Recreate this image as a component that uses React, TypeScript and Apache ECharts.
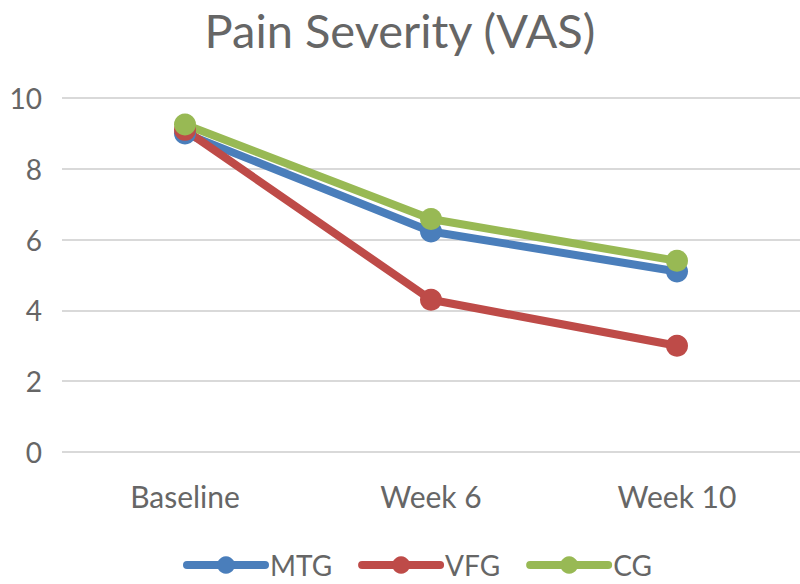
import React, { useEffect, useRef } from "react";
import * as echarts from "echarts";

const categories = ["Baseline", "Week 6", "Week 10"];
const mtg = [9.0, 6.23, 5.1];
const vfg = [9.1, 4.3, 3.0];
const cg = [9.25, 6.58, 5.4];
const seriesNames = ["MTG", "VFG", "CG"];
const colors = ["#4a7ebb", "#be4b48", "#98b954"];

export default function App() {
  const ref = useRef<HTMLDivElement>(null);
  useEffect(() => {
    if (!ref.current) return;
    const chart = echarts.init(ref.current, undefined, { renderer: "svg" });
    const font = "Lato, 'Open Sans', sans-serif";
    const data = [mtg, vfg, cg];
    chart.setOption({
      animation: false,
      backgroundColor: "#ffffff",
      title: {
        text: "Pain Severity (VAS)",
        left: "center",
        top: 1,
        textStyle: { color: "#666666", fontSize: 47, fontWeight: "normal", fontFamily: font },
      },
      grid: { left: 62, right: 0, top: 98, bottom: 132, containLabel: false },
      legend: {
        top: 546,
        left: 178,
        itemWidth: 78,
        itemHeight: 22,
        itemGap: 26,
        lineStyle: { width: 8, cap: "round" },
        textStyle: { color: "#666666", fontSize: 28, fontFamily: font },
        data: seriesNames,
      },
      xAxis: {
        type: "category",
        data: categories,
        boundaryGap: true,
        axisLine: { show: false },
        axisTick: { show: false },
        axisLabel: { color: "#666666", fontSize: 30, fontFamily: font, margin: 29 },
      },
      yAxis: {
        type: "value",
        min: 0,
        max: 10,
        interval: 2,
        axisLine: { show: false },
        axisTick: { show: false },
        splitLine: { lineStyle: { color: "#d9d9d9", width: 2 } },
        axisLabel: { color: "#666666", fontSize: 28, fontFamily: font, margin: 20 },
      },
      series: seriesNames.map((name, i) => ({
        name,
        type: "line",
        data: data[i],
        symbol: "circle",
        symbolSize: 22,
        color: colors[i],
        lineStyle: { width: 8, color: colors[i] },
        itemStyle: { color: colors[i] },
      })),
    });
    return () => chart.dispose();
  }, []);
  return <div ref={ref} style={{ width: 800, height: 584, position: "absolute", left: 0, top: 0 }} />;
}
